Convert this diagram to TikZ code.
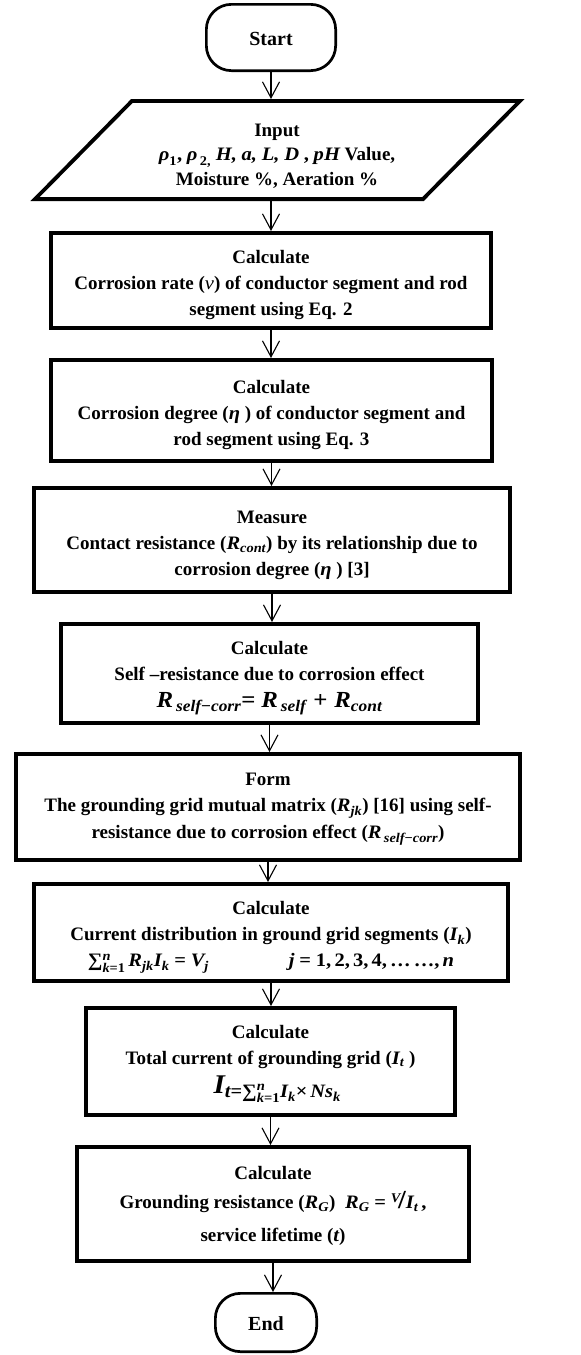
\documentclass[tikz,border=0pt]{standalone}
\usepackage{fontspec}
\usepackage{amsmath}
\setmainfont{Liberation Serif}
\newfontfamily\cmf{Liberation Serif}[FakeStretch=1.08]
\usetikzlibrary{arrows.meta}
\newcommand{\mv}[1]{\text{\cmf\bfseries\itshape #1}}
\newcommand{\mn}[1]{\text{\cmf\bfseries\upshape #1}}
\newcommand{\fl}[1]{\rule{0pt}{#1}}
\tikzset{
  box/.style={draw, line width=3.8pt, inner sep=0pt, align=center,
    font=\bfseries\fontsize{19}{26}\selectfont},
  term/.style={draw, line width=2.7pt, rounded corners=25pt, inner sep=0pt,
    font=\bfseries\fontsize{20}{24}\selectfont},
  conn/.style={line width=1.1pt, -{Straight Barb[length=16pt,width=17pt]}},
  pline/.style={line width=3.8pt, line join=miter},
}
\begin{document}
\begin{tikzpicture}[x=1pt,y=-1pt]
\useasboundingbox (0,0) rectangle (581,1355);

\node[term, minimum width=129.3pt, minimum height=66.3pt] (start) at (271,37.5) {\fl{17pt}Start};

% input parallelogram
\draw[pline] (132,100.9) -- (520,100.9) -- (423,199.1) -- (35,199.1) -- cycle;
\node[inner sep=0pt, outer sep=0pt, minimum height=102pt, align=center,
  font=\bfseries\fontsize{19}{24.5}\selectfont] (inp) at (277,150)
  {\fl{24pt}Input\\
   $\mv{ρ}_{\mn{1}}\mn{,}\ \mv{ρ}_{\,\mn{2,}}\ \mv{H,}\ \mv{a,}\ \mv{L,}\ \mv{D}\ \mn{,}\ \mv{pH}$ Value,\\
   Moisture \%, Aeration \%};

\node[box, minimum width=440.2pt, minimum height=95.2pt] (b1) at (271,280.5)
  {\fl{23pt}Calculate\\
   Corrosion rate ({\cmf\mdseries\itshape v}) of conductor segment and rod\\
   segment using Eq. 2};

\node[box, minimum width=441.2pt, minimum height=101.2pt] (b2) at (271.5,410.5)
  {\fl{23pt}Calculate\\
   Corrosion degree ($\mv{η}$ ) of conductor segment and\\
   rod segment using Eq. 3};

\node[box, minimum width=476.2pt, minimum height=104.2pt] (b3) at (272,540)
  {\fl{23pt}Measure\\
   Contact resistance ($\mv{R}_{\mv{cont}}$) by its relationship due to\\
   corrosion degree ($\mv{η}$ ) [3]};

\node[box, minimum width=417.2pt, minimum height=99.2pt] (b4) at (269.5,673.5)
  {\fl{23pt}Calculate\\
   Self –resistance due to corrosion effect\\[1pt]
   {\fontsize{23}{27}\selectfont $\mv{R}_{\,\mv{self}\mn{−}\mv{corr}}\mn{=}\ \mv{R}_{\,\mv{self}}\;\mn{+}\;\mv{R}_{\mv{cont}}$}};

\node[box, minimum width=504.2pt, minimum height=106.2pt] (b5) at (268,807)
  {\fl{17pt}Form\\
   The grounding grid mutual matrix ($\mv{R}_{\mv{jk}}$) [16] using self-\\[1pt]
   resistance due to corrosion effect ($\mv{R}_{\,\mv{self}\mn{−}\mv{corr}}$)};

\node[box, minimum width=474.2pt, minimum height=97.2pt] (b6) at (271,932.5)
  {\fl{23pt}Calculate\\
   Current distribution in ground grid segments ($\mv{I}_{\mv{k}}$)\\
   $\mn{∑}^{\mv{n}}_{\mv{k}\mn{=1}}\,\mv{R}_{\mv{jk}}\mv{I}_{\mv{k}}\;\mn{=}\;\mv{V}_{\mv{j}}$\hspace{80pt}$\mv{j}\;\mn{=}\;\mn{1,\,2,\,3,\,4,\,…\,…,\,}\mv{n}$};

\node[box, minimum width=369.2pt, minimum height=107.2pt] (b7) at (270.5,1061.5)
  {\fl{18pt}Calculate\\
   Total current of grounding grid ($\mv{I}_{\mv{t}}$ )\\[3pt]
   {\fontsize{27}{30}\selectfont \hspace*{14pt}$\mv{I}_{\mv{t}\mn{=}\mn{∑}^{\mv{n}}_{\mv{k}\mn{=1}}\mv{I}_{\mv{k}}\mn{×}\,\mv{Ns}_{\mv{k}}}$}};

\node[box, minimum width=392.2pt, minimum height=114.2pt] (b8) at (273,1204)
  {\fl{17pt}Calculate\\[3pt]
   Grounding resistance ($\mv{R}_{\mv{G}}$)\ \ $\mv{R}_{\mv{G}}\;\mn{=}\;{}^{\mv{V}}\!\mn{\fontsize{26}{26}\selectfont/}\mv{I}_{\mv{t}}\,\mn{,}$\\[7pt]
   service lifetime ($\mv{t}$)};

\node[term, minimum width=101.3pt, minimum height=58.3pt] (end) at (266,1322.5) {\fl{17pt}End};

\draw[conn] (start.south) -- (start.south |- inp.north);
\draw[conn] (b1.north |- inp.south) -- (b1.north);
\draw[conn] (b1.south) -- (b1.south |- b2.north);
\draw[conn] (b2.south) -- (b2.south |- b3.north);
\draw[conn] (b3.south) -- (b3.south |- b4.north);
\draw[conn] (b4.south) -- (b4.south |- b5.north);
\draw[conn] (b5.south) -- (b5.south |- b6.north);
\draw[conn] (b6.south) -- (b6.south |- b7.north);
\draw[conn] (b7.south) -- (b7.south |- b8.north);
\draw[conn] (b8.south) -- (b8.south |- end.north);
\end{tikzpicture}
\end{document}
